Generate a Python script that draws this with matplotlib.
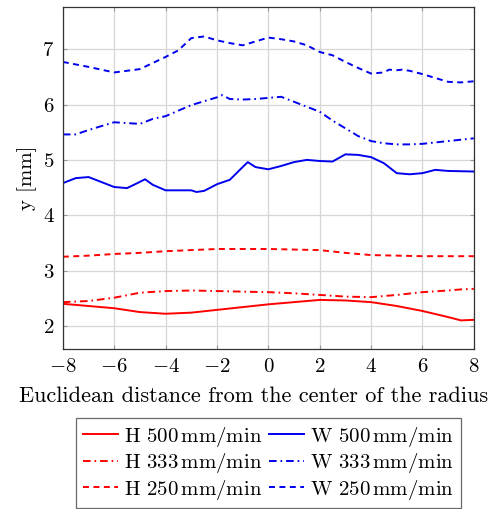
import matplotlib
matplotlib.use("Agg")
import matplotlib.pyplot as plt

plt.rcParams['font.family'] = 'serif'
plt.rcParams['font.serif'] = ['cmr10']
plt.rcParams['mathtext.fontset'] = 'cm'
plt.rcParams['axes.formatter.use_mathtext'] = True
plt.rcParams['lines.scale_dashes'] = False

x_w250 = [-8, -7, -6, -5, -4, -3.5, -3, -2.5, -2, -1.5, -1, -0.5, 0, 0.5, 1, 1.5, 2, 2.5,
          3, 3.5, 4, 4.5, 4.7, 5, 5.2, 5.5, 6, 6.5, 7, 7.5, 8]
w250 = [6.77, 6.68, 6.58, 6.64, 6.86, 6.98, 7.2, 7.23, 7.16, 7.11, 7.07, 7.14, 7.21, 7.18, 7.14,
        7.07, 6.95, 6.89, 6.77, 6.66, 6.56, 6.58, 6.63, 6.62, 6.63, 6.61, 6.55, 6.48, 6.41, 6.4, 6.42]

x_w333 = [-8, -7.5, -7, -6, -5, -4.5, -4, -3, -2, -1.8, -1.5, -1, -0.5, 0, 0.5, 1, 1.5, 2, 2.5,
          3, 3.5, 4, 4.5, 5, 5.5, 6, 7, 8]
w333 = [5.46, 5.46, 5.54, 5.68, 5.65, 5.74, 5.79, 5.99, 6.13, 6.17, 6.1, 6.09, 6.1, 6.12, 6.14,
        6.05, 5.96, 5.87, 5.71, 5.57, 5.43, 5.34, 5.3, 5.28, 5.28, 5.29, 5.34, 5.39]

x_w500 = [-8, -7.5, -7, -6.5, -6, -5.5, -5.1, -4.8, -4.5, -4, -3, -2.8, -2.5, -2, -1.5, -1,
          -0.8, -0.5, 0, 0.5, 1, 1.5, 2, 2.5, 3, 3.5, 4, 4.5, 5, 5.5, 6, 6.5, 7, 8]
w500 = [4.58, 4.67, 4.69, 4.6, 4.51, 4.49, 4.58, 4.65, 4.55, 4.45, 4.45, 4.42, 4.44, 4.56, 4.64,
        4.87, 4.96, 4.87, 4.83, 4.89, 4.96, 5.0, 4.98, 4.97, 5.1, 5.09, 5.05, 4.94, 4.76, 4.74,
        4.76, 4.82, 4.8, 4.79]

x_h = [-8, -7, -6, -5, -4, -3, -2, -1, 0, 1, 2, 3, 4, 5, 6, 7, 7.5, 8]
h250 = [3.25, 3.27, 3.3, 3.32, 3.35, 3.37, 3.39, 3.39, 3.39, 3.38, 3.37, 3.32, 3.28, 3.27, 3.26,
        3.26, 3.26, 3.26]
h333 = [2.43, 2.45, 2.51, 2.6, 2.63, 2.64, 2.63, 2.62, 2.61, 2.59, 2.56, 2.53, 2.52, 2.56, 2.61,
        2.64, 2.66, 2.67]
h500 = [2.4, 2.36, 2.32, 2.25, 2.22, 2.24, 2.29, 2.34, 2.39, 2.43, 2.47, 2.46, 2.43, 2.36, 2.27,
        2.16, 2.1, 2.11]

x_ticks = [-8, -6, -4, -2, 0, 2, 4, 6, 8]
y_ticks = [2, 3, 4, 5, 6, 7]

dashed = (0, (4.3, 3.2))
dashdot = (0, (5.5, 2.8, 1.2, 2.8))
lw = 1.4
fs = 15

fig = plt.figure(figsize=(4.91, 5.09), dpi=100)
ax = fig.add_axes([0.128, 0.314, 0.837, 0.672])

l1, = ax.plot(x_h, h500, color='red', lw=lw, label=r'H 500$\,$mm/min')
l2, = ax.plot(x_h, h333, color='red', lw=lw, ls=dashdot, label=r'H 333$\,$mm/min')
l3, = ax.plot(x_h, h250, color='red', lw=lw, ls=dashed, label=r'H 250$\,$mm/min')
l4, = ax.plot(x_w500, w500, color='#0000ee', lw=lw, label=r'W 500$\,$mm/min')
l5, = ax.plot(x_w333, w333, color='#0000ee', lw=lw, ls=dashdot, label=r'W 333$\,$mm/min')
l6, = ax.plot(x_w250, w250, color='#0000ee', lw=lw, ls=dashed, label=r'W 250$\,$mm/min')

ax.set_xlim(-8, 8)
ax.set_ylim(1.58, 7.76)
ax.set_xticks(x_ticks)
ax.set_yticks(y_ticks)
ax.grid(True, color='#d6d6d6', lw=0.9)
ax.set_axisbelow(True)
ax.tick_params(direction='in', top=True, right=True, labelsize=fs, length=3,
               color='#999999', pad=6)
for s in ax.spines.values():
    s.set_color('#333333')
    s.set_linewidth(0.9)

ax.set_xlabel('Euclidean distance from the center of the radius', fontsize=16, labelpad=6)
ax.xaxis.set_label_coords(0.464, -0.11)
ax.set_ylabel('y [mm]', fontsize=fs, labelpad=4)

leg = fig.legend([l1, l2, l3, l4, l5, l6], [l.get_label() for l in (l1, l2, l3, l4, l5, l6)],
                 ncol=2, loc='lower center', bbox_to_anchor=(0.547, 0.0), fontsize=15,
                 frameon=True, fancybox=False, edgecolor='#444444', handlelength=1.7,
                 handletextpad=0.3, columnspacing=0.3, labelspacing=0.12, borderpad=0.3,
                 borderaxespad=0.05)
leg.get_frame().set_linewidth(0.9)

fig.savefig('out.png', dpi=100)
